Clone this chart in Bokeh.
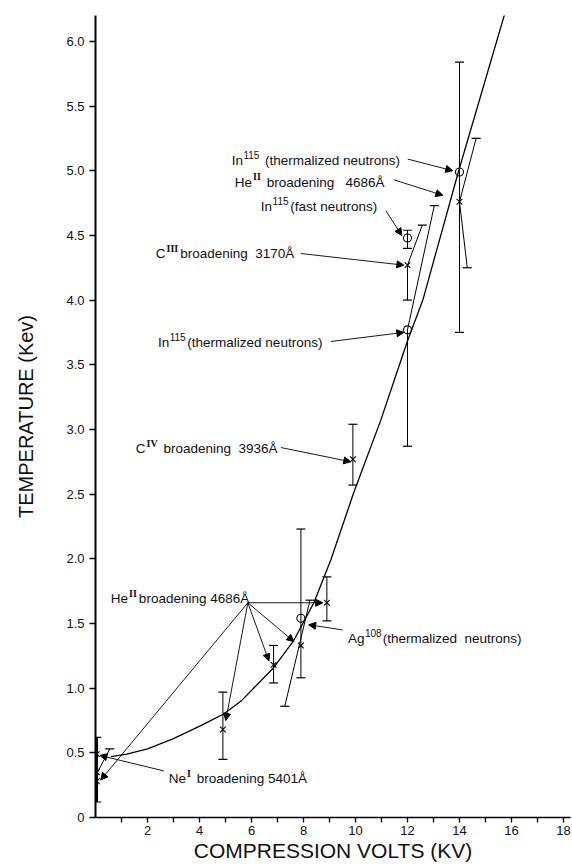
from bokeh.plotting import figure
from bokeh.models import (Range1d, FixedTicker, Arrow, NormalHead, ColumnDataSource,
                          PrintfTickFormatter)
from bokeh.core.properties import value
from bokeh.embed import file_html
from bokeh.resources import INLINE

# ---------------- data (kV, keV) ----------------
fit_kv = [0.6, 1.2, 2.0, 3.0, 4.05, 4.93, 5.6, 6.86, 7.63, 8.4, 9.05, 9.93, 10.97, 12.01, 12.59, 13.97, 15.78]
fit_kev = [0.47, 0.49, 0.53, 0.61, 0.71, 0.80, 0.90, 1.16, 1.37, 1.66, 1.99, 2.51, 3.07, 3.69, 4.00, 5.00, 6.24]

cross_kv = [0.05, 0.05, 0.05, 4.9, 6.85, 7.9, 8.9, 9.9, 12.0, 14.0]
cross_kev = [0.49, 0.35, 0.28, 0.68, 1.18, 1.33, 1.66, 2.77, 4.27, 4.76]

circle_kv = [7.9, 12.0, 14.0, 12.0]
circle_kev = [1.54, 3.77, 4.99, 4.48]

bar_kv = [0.05, 4.9, 6.85, 7.9, 8.9, 9.9, 12.0, 12.0, 12.0, 14.0]
bar_lo = [0.12, 0.45, 1.04, 1.08, 1.52, 2.57, 4.00, 2.87, 4.40, 3.75]
bar_hi = [0.62, 0.97, 1.33, 2.23, 1.86, 3.04, 4.27, 3.77, 4.54, 5.84]
bar_cap_lo = [True, True, True, True, True, True, True, True, True, True]
bar_cap_hi = [True, True, True, True, True, True, False, False, True, True]

slant_x0 = [12.0, 12.0, 14.0, 14.0, 7.28, 0.05]
slant_y0 = [3.77, 4.27, 4.76, 4.76, 0.86, 0.34]
slant_x1 = [13.03, 12.57, 14.64, 14.3, 8.25, 0.55]
slant_y1 = [4.73, 4.58, 5.25, 4.25, 1.68, 0.53]
slant_cap0 = [False, False, False, False, True, False]

# y tick labels / x tick labels
y_ticks = [0, 0.5, 1.0, 1.5, 2.0, 2.5, 3.0, 3.5, 4.0, 4.5, 5.0, 5.5, 6.0]
x_ticks = list(range(1, 19))
x_tick_labels = {t: (str(t) if t % 2 == 0 else "") for t in x_ticks}

# ---------------- annotations ----------------
arrow_x0 = [12.01, 11.47, 11.17, 7.90, 9.05, 7.13, 9.51, 2.63, 5.86, 5.86, 5.86, 5.86, 5.86]
arrow_y0 = [5.09, 4.93, 4.69, 4.36, 3.68, 2.86, 1.45, 0.36, 1.66, 1.66, 1.66, 1.66, 1.66]
arrow_x1 = [13.74, 13.36, 11.78, 11.86, 11.86, 9.82, 8.20, 0.17, 0.20, 5.01, 6.67, 7.63, 8.74]
arrow_y1 = [5.00, 4.81, 4.50, 4.27, 3.75, 2.75, 1.49, 0.48, 0.29, 0.75, 1.21, 1.36, 1.66]

label_x = [5.24, 5.36, 6.36, 2.32, 2.40, 1.55, 0.59, 9.71, 2.82]
label_y = [5.08, 4.91, 4.72, 4.36, 3.67, 2.85, 1.69, 1.38, 0.30]
label_parts = [
    [("In", "n"), ("115", "s"), ("\u00a0(thermalized\u00a0neutrons)", "n")],
    [("He", "n"), ("II", "r"), ("\u00a0broadening\u00a0\u00a0\u00a04686\u00c5", "n")],
    [("In", "n"), ("115", "s"), ("(fast\u00a0neutrons)", "n")],
    [("C", "n"), ("III", "r"), ("broadening\u00a0\u00a03170\u00c5", "n")],
    [("In", "n"), ("115", "s"), ("(thermalized\u00a0neutrons)", "n")],
    [("C", "n"), ("IV", "r"), ("\u00a0broadening\u00a0\u00a03936\u00c5", "n")],
    [("He", "n"), ("II", "r"), ("broadening\u00a04686\u00c5", "n")],
    [("Ag", "n"), ("108", "s"), ("(thermalized\u00a0\u00a0neutrons)", "n")],
    [("Ne", "n"), ("I", "r"), ("\u00a0broadening\u00a05401\u00c5", "n")],
]

SANS = "Liberation Sans"
SERIF = "Liberation Serif"
MAIN = 13.5
SUP = 10.0
W_SANS = {" ": 278, "\u00a0": 278, "(": 333, ")": 333, ".": 278, "A": 667, "C": 722, "H": 722,
          "I": 278, "N": 722, "\u00c5": 667, "a": 556, "b": 556, "d": 556, "e": 556, "g": 556,
          "h": 556, "i": 222, "l": 222, "m": 833, "n": 556, "o": 556, "r": 333, "s": 500,
          "t": 278, "u": 556, "z": 500, "f": 278}
W_SERIF = {"I": 389, "V": 722}


def tw(s, table, size):
    return sum(table.get(c, 556) for c in s) * size / 1000.0


rows = {"n": dict(x=[], y=[], t=[], xo=[], yo=[]),
        "s": dict(x=[], y=[], t=[], xo=[], yo=[]),
        "r": dict(x=[], y=[], t=[], xo=[], yo=[])}
for lx, ly, parts in zip(label_x, label_y, label_parts):
    off = 0.0
    for txt, kind in parts:
        if kind == "n":
            w = tw(txt, W_SANS, MAIN)
            yo = 0
        elif kind == "s":
            off += 0.5
            w = tw(txt, W_SANS, SUP) + 1.0
            yo = -5.5
        else:
            off += 1.0
            w = tw(txt, W_SERIF, SUP) + 2.0
            yo = -5.5
        d = rows[kind]
        d["x"].append(lx); d["y"].append(ly); d["t"].append(txt)
        d["xo"].append(off); d["yo"].append(yo)
        off += w

# ---------------- figure ----------------
p = figure(width=572, height=867, output_backend="svg", toolbar_location=None,
           x_range=Range1d(0, 18.27), y_range=Range1d(0, 6.2),
           min_border_left=95, min_border_right=2, min_border_top=15, min_border_bottom=50)
p.outline_line_color = None
p.xgrid.visible = False
p.ygrid.visible = False
p.background_fill_color = "white"
p.border_fill_color = "white"

# axes
p.yaxis.ticker = FixedTicker(ticks=y_ticks)
p.yaxis.formatter = PrintfTickFormatter(format="%.1f")
p.yaxis.major_label_overrides = {0: "0"}
p.xaxis.ticker = FixedTicker(ticks=x_ticks)
p.xaxis.major_label_overrides = x_tick_labels
for ax in (p.xaxis, p.yaxis):
    ax.minor_tick_line_color = None
    ax.major_tick_in = 0
    ax.major_tick_line_color = "black"
    ax.major_tick_line_width = 1.3
    ax.axis_line_color = "black"
    ax.major_label_text_font = SANS
    ax.major_label_text_font_size = "13px"
    ax.major_label_text_color = "#111111"
    ax.axis_label_text_font = SANS
    ax.axis_label_text_font_style = "normal"
    ax.axis_label_text_color = "#111111"
p.yaxis.axis_line_width = 2
p.xaxis.axis_line_width = 1.5
p.yaxis.major_tick_out = 6
p.xaxis.major_tick_out = 5
p.yaxis.major_label_standoff = 5
p.xaxis.major_label_standoff = 3
p.yaxis.axis_label = "TEMPERATURE (Kev)"
p.xaxis.axis_label = "COMPRESSION VOLTS (KV)"
p.yaxis.axis_label_text_font_size = "20px"
p.xaxis.axis_label_text_font_size = "21px"
p.yaxis.axis_label_standoff = 26
p.xaxis.axis_label_standoff = 1

# fit curve
p.line(fit_kv, fit_kev, line_color="black", line_width=1.3)

# vertical error bars
p.segment(x0=bar_kv, y0=bar_lo, x1=bar_kv, y1=bar_hi, line_color="black", line_width=1)
cap_x = [x for x, c in zip(bar_kv, bar_cap_lo) if c] + [x for x, c in zip(bar_kv, bar_cap_hi) if c]
cap_y = [y for y, c in zip(bar_lo, bar_cap_lo) if c] + [y for y, c in zip(bar_hi, bar_cap_hi) if c]
# slanted error bars
p.segment(x0=slant_x0, y0=slant_y0, x1=slant_x1, y1=slant_y1, line_color="black", line_width=1)
cap_x += slant_x1 + [x for x, c in zip(slant_x0, slant_cap0) if c]
cap_y += slant_y1 + [y for y, c in zip(slant_y0, slant_cap0) if c]
p.scatter(cap_x, cap_y, marker="dash", size=9, line_color="black", line_width=1.2)
# thicker cluster at the origin
p.segment(x0=bar_kv[:1], y0=bar_lo[:1], x1=bar_kv[:1], y1=bar_hi[:1], line_color="black", line_width=2.5)

# markers
p.scatter(cross_kv, cross_kev, marker="x", size=8, line_color="black", line_width=1.1)
p.scatter(circle_kv, circle_kev, marker="circle", size=8, fill_color=None,
          line_color="black", line_width=1.1)

# arrows
asrc = ColumnDataSource(dict(x0=arrow_x0, y0=arrow_y0, x1=arrow_x1, y1=arrow_y1))
p.add_layout(Arrow(end=NormalHead(size=7, fill_color="black", line_color="black", line_width=1),
                   x_start="x0", y_start="y0", x_end="x1", y_end="y1", source=asrc,
                   line_color="black", line_width=0.9))

# labels
p.text(x="x", y="y", text="t", x_offset="xo", y_offset="yo", source=ColumnDataSource(rows["n"]),
       text_font=value(SANS), text_font_size="13.5px", text_color="#111111",
       text_baseline="alphabetic", text_align="left")
p.text(x="x", y="y", text="t", x_offset="xo", y_offset="yo", source=ColumnDataSource(rows["s"]),
       text_font=value(SANS), text_font_size="10px", text_color="#111111",
       text_baseline="alphabetic", text_align="left")
p.text(x="x", y="y", text="t", x_offset="xo", y_offset="yo", source=ColumnDataSource(rows["r"]),
       text_font=value(SERIF), text_font_size="10px", text_font_style="bold", text_color="#111111",
       text_baseline="alphabetic", text_align="left")

open("out.html", "w").write(file_html(p, INLINE))
